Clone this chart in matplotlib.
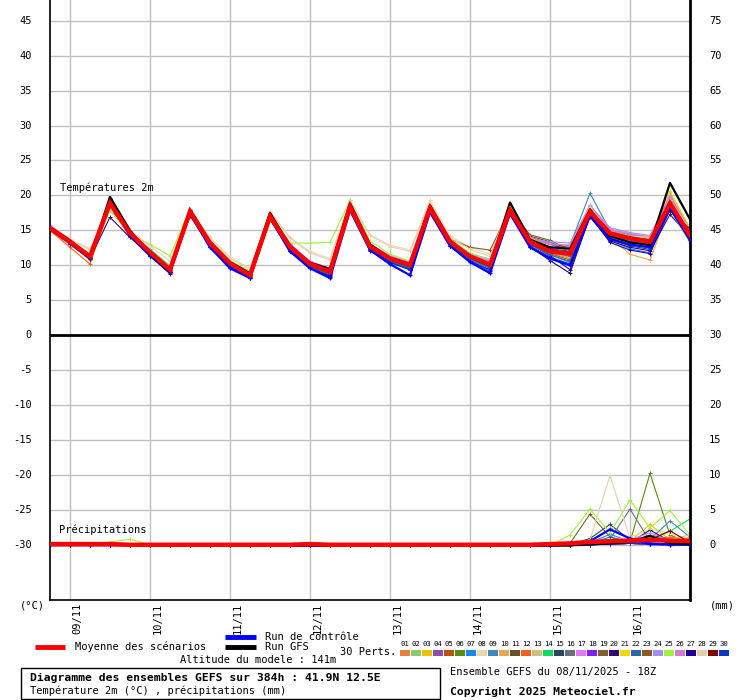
import numpy as np
import matplotlib
matplotlib.use("Agg")
import matplotlib.pyplot as plt
from matplotlib.transforms import blended_transform_factory
from matplotlib.patches import Rectangle

plt.rcParams['font.family'] = ['DejaVu Sans Mono']

# ---------------- data ----------------
hours = [6 * i for i in range(33)]          # hours after 08/11 18Z
day_labels = ["09/11", "10/11", "11/11", "12/11", "13/11", "14/11", "15/11", "16/11"]
day_hours = [6, 30, 54, 78, 102, 126, 150, 174]

left_ticks = [45, 40, 35, 30, 25, 20, 15, 10, 5, 0, -5, -10, -15, -20, -25, -30]
right_labels = [75, 70, 65, 60, 55, 50, 45, 40, 35, 30, 25, 20, 15, 10, 5, 0]

mean_t = [15.3, 13.4, 11.3, 18.9, 14.6, 11.9, 9.4, 17.7, 13.2, 10.3, 8.6, 17.0, 12.7, 10.2, 9.1, 18.4,
          12.7, 11.0, 10.1, 18.2, 13.4, 11.3, 10.1, 17.9, 13.4, 12.0, 11.7, 17.7, 14.6, 13.9, 13.4, 18.9, 14.3]
control_t = [15.4, 13.2, 11.0, 19.3, 14.2, 11.4, 9.0, 17.4, 12.6, 9.6, 8.2, 16.8, 12.0, 9.6, 8.2, 17.9,
             12.2, 10.2, 8.6, 17.6, 12.8, 10.5, 8.9, 17.4, 12.6, 11.0, 10.0, 17.2, 13.8, 13.0, 12.6, 18.2, 13.6]
gfs_t = [15.5, 13.6, 11.0, 19.8, 15.0, 11.6, 9.2, 18.0, 13.4, 10.5, 8.9, 17.5, 12.8, 10.4, 9.5, 18.9,
         13.0, 11.1, 10.2, 18.6, 13.6, 11.2, 10.0, 19.0, 13.7, 12.6, 12.4, 18.0, 14.2, 13.3, 12.9, 21.8, 16.6]

pert_colors = ["#e8803a", "#88c870", "#f0c000", "#8850a8", "#b85010", "#5a8a10", "#1888f0", "#e8d8b0",
               "#3a8ab8", "#e8a850", "#685020", "#f06020", "#d0c080", "#10d860", "#284860", "#687078",
               "#e078f8", "#8020f0", "#806030", "#300870", "#f0d800", "#2868a8", "#905820", "#a090f0",
               "#a0f040", "#d878d8", "#200098", "#e0d0b0", "#800000", "#0838c0"]

p01 = [15.0, 13.0, 10.8, 18.5, 14.2, 11.6, 9.0, 17.5, 13.0, 10.0, 8.4, 16.6, 12.4, 9.8, 8.9, 18.0, 12.4, 10.8, 9.8, 17.8, 13.2, 11.0, 9.8, 17.6, 13.0, 11.8, 11.0, 17.4, 14.0, 13.4, 13.2, 18.4, 14.6]
p02 = [15.5, 13.6, 11.6, 18.8, 14.8, 12.2, 9.7, 17.9, 13.4, 10.6, 8.9, 17.2, 12.9, 10.5, 9.4, 18.6, 13.0, 11.3, 10.4, 18.4, 13.6, 11.6, 10.5, 18.2, 13.8, 12.6, 12.8, 17.6, 15.0, 14.4, 14.0, 19.2, 14.0]
p03 = [15.2, 13.5, 11.4, 19.2, 14.7, 11.8, 9.3, 17.8, 13.1, 10.2, 8.5, 17.1, 12.6, 10.1, 8.9, 18.3, 12.6, 10.9, 9.9, 18.1, 13.3, 11.2, 10.0, 18.0, 13.6, 12.3, 11.5, 18.2, 14.8, 14.2, 13.8, 20.5, 15.0]
p04 = [15.6, 13.4, 11.2, 18.6, 14.4, 12.0, 9.5, 17.6, 13.3, 10.4, 8.7, 16.9, 12.8, 10.3, 9.2, 18.5, 12.9, 11.2, 10.3, 18.3, 13.5, 11.4, 10.3, 18.1, 13.9, 13.0, 12.2, 18.0, 14.4, 14.0, 13.6, 19.0, 14.2]
p05 = [15.1, 13.3, 11.1, 18.9, 14.5, 11.7, 9.2, 17.6, 13.2, 10.3, 8.6, 17.0, 12.6, 10.2, 9.0, 18.4, 12.7, 11.0, 10.0, 18.2, 13.4, 11.3, 10.2, 17.8, 13.3, 11.7, 10.8, 17.5, 14.2, 13.6, 13.0, 19.4, 14.8]
p06 = [15.3, 13.5, 11.3, 18.4, 14.3, 11.9, 9.5, 17.7, 13.3, 10.4, 8.8, 17.2, 12.8, 10.4, 9.3, 18.4, 12.8, 11.1, 10.2, 18.2, 13.5, 11.5, 10.4, 17.9, 13.5, 12.2, 11.8, 17.6, 14.6, 13.8, 13.2, 18.8, 14.0]
p07 = [15.2, 13.1, 11.0, 19.0, 14.3, 11.5, 9.1, 17.5, 12.9, 9.9, 8.3, 16.7, 12.2, 9.8, 8.6, 18.1, 12.3, 10.6, 9.5, 17.9, 13.0, 10.8, 9.6, 17.7, 13.1, 11.6, 10.4, 17.3, 13.6, 12.4, 11.8, 18.6, 14.4]
p08 = [15.5, 13.7, 12.4, 18.0, 14.9, 12.4, 10.0, 18.0, 14.0, 11.2, 9.6, 17.8, 14.0, 12.0, 11.0, 19.4, 14.4, 12.9, 12.2, 19.3, 14.2, 12.6, 11.6, 18.8, 14.0, 12.4, 12.0, 17.9, 15.2, 14.6, 14.2, 19.6, 15.4]
p09 = [15.3, 13.4, 11.2, 19.1, 14.6, 11.8, 9.3, 17.7, 13.1, 10.2, 8.6, 17.0, 12.6, 10.0, 9.0, 18.3, 12.6, 10.9, 9.9, 18.1, 13.4, 11.4, 10.6, 17.9, 13.5, 12.5, 12.9, 20.3, 15.0, 14.0, 13.4, 19.6, 14.6]
p10 = [15.0, 13.2, 11.1, 18.7, 14.4, 11.7, 9.2, 17.6, 13.0, 10.1, 8.5, 16.9, 12.5, 10.0, 8.9, 18.2, 12.5, 10.9, 9.9, 18.0, 13.2, 11.1, 9.9, 17.8, 13.2, 11.8, 11.2, 17.9, 14.0, 11.6, 10.8, 18.4, 13.8]
p11 = [15.4, 13.5, 11.4, 19.4, 14.7, 11.8, 9.0, 17.8, 13.1, 10.1, 8.4, 17.0, 12.5, 9.9, 8.7, 18.2, 12.5, 10.8, 9.7, 18.0, 13.3, 11.2, 10.1, 18.4, 14.2, 13.4, 11.8, 17.4, 14.3, 13.8, 13.2, 18.6, 14.5]
p12 = [15.0, 12.6, 10.2, 18.5, 14.5, 11.7, 9.3, 17.3, 13.0, 10.3, 8.7, 16.7, 12.6, 10.2, 9.1, 18.0, 12.6, 11.0, 10.0, 18.0, 13.4, 11.4, 10.3, 18.1, 13.6, 12.1, 11.4, 17.5, 14.6, 14.0, 13.6, 19.2, 15.2]
p13 = [15.4, 13.6, 11.5, 19.0, 14.8, 12.0, 9.5, 17.9, 13.4, 10.5, 8.9, 17.3, 13.0, 10.6, 9.5, 18.7, 13.0, 11.3, 10.4, 18.5, 13.7, 11.6, 10.5, 18.2, 13.7, 12.3, 12.4, 18.3, 14.9, 14.3, 13.9, 19.8, 14.8]
p14 = [15.2, 13.3, 11.2, 18.6, 14.4, 12.3, 9.9, 17.6, 13.2, 10.4, 8.7, 17.1, 12.9, 10.4, 9.3, 18.4, 12.8, 11.1, 10.2, 18.2, 13.4, 11.3, 10.1, 17.7, 13.4, 12.2, 12.6, 18.1, 14.8, 14.4, 14.0, 19.0, 14.4]
p15 = [15.6, 13.6, 11.4, 19.6, 14.9, 11.9, 9.3, 17.9, 13.3, 10.3, 8.6, 17.0, 12.7, 10.2, 9.1, 18.5, 12.8, 11.1, 10.1, 18.3, 13.5, 11.4, 10.2, 18.0, 13.4, 12.0, 11.6, 17.8, 14.5, 13.8, 13.2, 19.4, 14.3]
p16 = [15.3, 13.5, 11.3, 19.5, 14.6, 11.7, 9.2, 17.6, 13.2, 10.3, 8.6, 17.1, 12.7, 10.1, 9.0, 18.4, 12.7, 11.0, 10.1, 18.2, 13.4, 11.3, 10.1, 17.9, 13.4, 11.9, 11.3, 17.6, 14.4, 13.5, 12.9, 19.0, 14.1]
p17 = [15.8, 13.7, 11.5, 18.8, 14.8, 12.1, 9.6, 17.8, 13.4, 10.5, 8.8, 17.3, 13.1, 10.6, 9.6, 18.6, 13.1, 11.4, 10.5, 18.4, 13.6, 11.7, 10.9, 18.3, 14.0, 13.0, 12.7, 18.4, 15.2, 14.5, 14.1, 19.9, 14.9]
p18 = [15.4, 13.4, 11.3, 18.3, 14.2, 11.9, 9.4, 17.2, 13.0, 10.2, 8.7, 16.8, 12.5, 10.1, 9.1, 18.1, 12.6, 10.9, 10.0, 18.0, 13.3, 11.3, 10.2, 17.8, 13.5, 12.4, 12.0, 17.5, 14.4, 13.9, 13.4, 18.8, 14.3]
p19 = [15.3, 13.4, 11.3, 19.0, 14.6, 11.9, 9.4, 17.7, 13.2, 10.3, 8.6, 17.0, 12.7, 10.2, 9.1, 18.4, 12.7, 11.0, 10.1, 18.2, 13.4, 11.3, 10.1, 17.9, 14.4, 13.6, 12.2, 17.9, 14.6, 13.8, 13.3, 18.9, 14.2]
p20 = [15.2, 13.2, 11.0, 16.9, 14.0, 11.6, 9.1, 17.1, 12.8, 10.0, 8.4, 16.7, 12.3, 9.9, 8.8, 18.0, 12.3, 10.7, 9.7, 17.8, 13.0, 11.0, 9.8, 17.6, 13.1, 11.4, 9.4, 16.9, 13.5, 12.6, 12.1, 17.3, 14.0]
p21 = [15.1, 13.3, 11.2, 18.8, 14.5, 11.8, 9.3, 17.6, 13.1, 10.2, 8.5, 16.9, 12.6, 10.1, 9.0, 18.3, 12.6, 10.9, 9.9, 18.1, 13.3, 11.2, 10.0, 17.8, 13.3, 11.9, 11.6, 17.8, 14.7, 14.1, 13.8, 20.6, 15.4]
p22 = [15.2, 13.2, 11.1, 19.2, 14.4, 11.6, 9.1, 17.4, 12.9, 10.0, 8.4, 16.8, 12.3, 9.8, 8.7, 18.1, 12.4, 10.7, 9.6, 17.9, 13.1, 10.9, 9.7, 17.6, 13.0, 11.5, 10.6, 17.4, 13.9, 13.0, 12.5, 18.5, 14.0]
p23 = [15.4, 13.5, 11.4, 19.1, 14.6, 11.8, 9.3, 17.6, 13.2, 10.2, 8.6, 16.9, 12.6, 10.1, 9.0, 18.3, 12.7, 11.0, 10.1, 18.2, 13.8, 12.6, 12.2, 18.0, 14.0, 13.2, 12.5, 17.7, 14.5, 13.9, 13.4, 19.2, 14.6]
p24 = [15.6, 13.6, 11.5, 19.0, 14.7, 12.0, 9.5, 17.8, 13.3, 10.4, 8.8, 17.2, 12.9, 10.4, 9.3, 18.5, 12.9, 11.2, 10.3, 18.3, 13.5, 11.5, 10.7, 18.2, 13.8, 13.4, 13.2, 18.6, 15.4, 14.7, 14.3, 20.0, 15.1]
p25 = [15.4, 13.5, 11.6, 17.8, 14.5, 13.0, 11.4, 18.1, 13.6, 10.7, 9.2, 17.5, 13.2, 13.2, 13.3, 19.3, 13.5, 11.6, 10.6, 18.6, 13.8, 11.8, 10.8, 18.4, 14.0, 12.6, 12.3, 17.6, 14.9, 14.2, 13.6, 18.0, 13.2]
p26 = [15.5, 13.5, 11.4, 18.9, 14.7, 12.0, 9.5, 17.7, 13.3, 10.4, 8.8, 17.2, 12.8, 10.3, 9.2, 18.5, 12.8, 11.1, 10.2, 18.3, 13.5, 11.5, 10.6, 18.1, 14.0, 13.1, 12.9, 18.5, 15.1, 14.5, 14.0, 19.6, 14.7]
p27 = [15.2, 13.1, 10.9, 19.0, 14.2, 11.4, 8.9, 17.3, 12.7, 9.7, 8.2, 16.6, 12.1, 9.6, 8.5, 17.9, 12.1, 10.4, 9.4, 17.7, 12.8, 10.6, 9.4, 17.4, 12.7, 10.7, 8.9, 17.1, 13.3, 12.2, 11.7, 18.0, 13.9]
p28 = [15.7, 13.8, 12.2, 18.2, 15.0, 12.8, 10.6, 18.1, 13.8, 11.0, 9.5, 17.7, 13.9, 11.8, 10.8, 19.2, 14.3, 12.7, 12.0, 19.0, 14.0, 12.3, 11.3, 18.7, 13.8, 12.6, 12.5, 18.4, 14.8, 14.2, 14.0, 19.4, 15.0]
p29 = [15.3, 13.4, 11.2, 19.3, 14.5, 11.4, 8.8, 17.5, 13.0, 10.1, 8.5, 16.9, 12.5, 10.0, 8.9, 18.3, 12.6, 10.9, 9.9, 18.1, 13.3, 11.2, 10.0, 17.9, 13.5, 12.3, 11.6, 17.9, 14.7, 14.0, 13.7, 17.8, 15.2]
p30 = [15.1, 13.1, 11.0, 19.3, 14.3, 11.5, 9.0, 17.4, 12.7, 9.8, 8.2, 16.7, 12.1, 9.7, 8.3, 18.0, 12.2, 10.5, 9.4, 17.8, 12.9, 10.7, 9.2, 17.5, 12.8, 11.2, 10.2, 17.6, 13.7, 12.8, 12.3, 18.7, 14.1]
pert_t = [p01, p02, p03, p04, p05, p06, p07, p08, p09, p10, p11, p12, p13, p14, p15,
          p16, p17, p18, p19, p20, p21, p22, p23, p24, p25, p26, p27, p28, p29, p30]

# precipitation (mm per 6h)
mean_p = [0.2, 0.2, 0.2, 0.2, 0.1, 0.1, 0.1, 0.1, 0.1, 0.1, 0.1, 0.1, 0.1, 0.2, 0.1, 0.1, 0.1,
          0.1, 0.1, 0.1, 0.1, 0.1, 0.1, 0.1, 0.1, 0.2, 0.3, 0.5, 0.6, 0.7, 0.8, 0.7, 0.6]
control_p = [0.1, 0.1, 0.1, 0.1, 0.1, 0, 0, 0, 0, 0, 0, 0, 0, 0, 0, 0, 0,
             0, 0, 0, 0, 0, 0, 0, 0, 0, 0.1, 0.6, 2.3, 1.0, 0.2, 0.1, 0.1]
gfs_p = [0.1, 0.1, 0.1, 0.1, 0.1, 0, 0, 0, 0, 0, 0, 0, 0, 0, 0, 0, 0,
         0, 0, 0, 0, 0, 0, 0, 0, 0, 0, 0.2, 0.3, 0.5, 1.4, 0.3, 0.2]
pp06 = [0, 0, 0, 0, 0, 0, 0, 0, 0, 0, 0, 0, 0, 0, 0, 0, 0, 0, 0, 0, 0, 0, 0, 0, 0, 0, 0, 0.1, 0.2, 0.5, 10.3, 1.5, 0.3]
pp08 = [0, 0, 0, 0, 0, 0, 0, 0, 0, 0, 0, 0, 0, 0, 0, 0, 0, 0, 0, 0, 0, 0, 0, 0, 0, 0, 0.1, 0.3, 0.8, 1.2, 2.3, 1.8, 0.4]
pp25 = [0, 0, 0.2, 0.5, 0.9, 0.1, 0, 0, 0, 0, 0, 0, 0, 0, 0, 0, 0, 0, 0, 0, 0, 0, 0, 0, 0, 0, 1.5, 5.2, 1.8, 6.5, 2.5, 5.0, 1.5]
pp28 = [0, 0, 0, 0, 0, 0, 0, 0, 0, 0, 0, 0, 0, 0, 0, 0, 0, 0, 0, 0, 0, 0, 0, 0, 0, 0, 0.2, 0.8, 10.0, 1.0, 0.6, 0.3, 0.2]
pp19 = [0, 0, 0, 0, 0, 0, 0, 0, 0, 0, 0, 0, 0, 0, 0, 0, 0, 0, 0, 0, 0, 0, 0, 0, 0, 0, 0.3, 4.5, 1.2, 0.4, 0.3, 0.2, 0.1]
pp15 = [0, 0, 0, 0, 0, 0, 0, 0, 0, 0, 0, 0, 0, 0, 0, 0, 0, 0, 0, 0, 0, 0, 0, 0, 0, 0, 0.1, 1.0, 3.0, 0.8, 0.4, 0.2, 0.1]
pp16 = [0, 0, 0, 0, 0, 0, 0, 0, 0, 0, 0, 0, 0, 0, 0, 0, 0, 0, 0, 0, 0, 0, 0, 0, 0, 0, 0, 0.2, 0.9, 5.2, 0.6, 0.3, 0.2]
pp14 = [0, 0, 0, 0, 0, 0, 0, 0, 0, 0, 0, 0, 0, 0, 0, 0, 0, 0, 0, 0, 0, 0, 0, 0, 0, 0, 0, 0.1, 0.3, 0.6, 0.8, 2.0, 3.8]
pp09 = [0, 0, 0, 0, 0, 0, 0, 0, 0, 0, 0, 0, 0, 0, 0, 0, 0, 0, 0, 0, 0, 0, 0, 0, 0, 0, 0, 0.1, 0.2, 0.5, 0.9, 3.5, 1.2]
pp03 = [0, 0, 0, 0, 0, 0, 0, 0, 0, 0, 0, 0, 0, 0, 0, 0, 0, 0, 0, 0, 0, 0, 0, 0, 0, 0, 0, 0.2, 0.4, 0.6, 3.0, 0.8, 0.5]
pp20 = [0, 0, 0, 0, 0, 0, 0, 0, 0, 0, 0, 0, 0, 0, 0, 0, 0, 0, 0, 0, 0, 0, 0, 0, 0, 0, 0, 0.1, 0.3, 0.4, 2.2, 0.6, 0.3]
pp29 = [0, 0, 0, 0, 0, 0, 0, 0, 0, 0, 0, 0, 0, 0, 0, 0, 0, 0, 0, 0, 0, 0, 0, 0, 0, 0, 0, 0.1, 0.2, 0.4, 0.8, 2.1, 0.4]
pp12 = [0, 0, 0, 0, 0, 0, 0, 0, 0, 0, 0, 0, 0, 0, 0, 0, 0, 0, 0, 0, 0, 0, 0, 0, 0, 0, 0, 0.2, 0.3, 0.5, 1.0, 1.2, 1.0]
pp13 = [0, 0, 0, 0, 0, 0, 0, 0, 0, 0, 0, 0, 0, 0, 0, 0, 0, 0, 0, 0, 0, 0, 0, 0, 0, 0, 0, 0.1, 0.2, 0.4, 0.6, 0.9, 1.5]
pp24 = [0, 0, 0, 0, 0, 0, 0, 0, 0, 0, 0, 0, 0, 0, 0, 0, 0, 0, 0, 0, 0, 0, 0, 0, 0, 0, 0, 0.2, 0.4, 0.8, 1.8, 0.7, 0.4]
pp07 = [0.1, 0, 0, 0, 0, 0, 0, 0, 0, 0, 0, 0, 0, 0, 0, 0, 0, 0, 0, 0, 0, 0, 0, 0, 0, 0, 0.1, 0.4, 1.6, 0.6, 0.3, 0.2, 0.1]
pp22 = [0, 0, 0, 0, 0, 0, 0, 0, 0, 0, 0, 0, 0, 0, 0, 0, 0, 0, 0, 0, 0, 0, 0, 0, 0, 0, 0, 0.3, 1.2, 0.5, 0.3, 0.4, 0.2]
pp01 = [0, 0, 0, 0, 0, 0, 0, 0, 0, 0, 0, 0, 0, 0, 0, 0, 0, 0, 0, 0, 0, 0, 0, 0, 0, 0, 0, 0.1, 0.3, 0.6, 1.2, 0.9, 0.6]
pp10 = [0, 0, 0, 0, 0, 0, 0, 0, 0, 0, 0, 0, 0, 0, 0, 0, 0, 0, 0, 0, 0, 0, 0, 0, 0, 0, 0, 0.1, 0.2, 0.9, 0.4, 0.5, 1.1]
pp_zero = [0, 0, 0, 0, 0, 0, 0, 0, 0, 0, 0, 0, 0, 0, 0, 0, 0, 0, 0, 0, 0, 0, 0, 0, 0, 0, 0, 0.1, 0.2, 0.3, 0.2, 0.3, 0.2]
pert_p = [pp01, pp_zero, pp03, pp_zero, pp_zero, pp06, pp07, pp08, pp09, pp10,
          pp_zero, pp12, pp13, pp14, pp15, pp16, pp_zero, pp_zero, pp19, pp20,
          pp_zero, pp22, pp_zero, pp24, pp25, pp_zero, pp_zero, pp28, pp29, pp_zero]

OFFSET = 30  # precipitation plotted as (mm - 30) on the same axis; right axis labels = left + 30

# ---------------- figure ----------------
W, H = 740, 700
fig = plt.figure(figsize=(W / 100, H / 100), dpi=100)
ax = fig.add_axes([50 / W, 100 / H, 640 / W, 600 / H])
ax.set_xlim(0, 192)
ax.set_ylim(-37.79, 47.93)

grid_c = "#c0c0c0"
for v in left_ticks:
    if v != 0:
        ax.axhline(v, color=grid_c, lw=1, zorder=0)
for h in day_hours:
    ax.axvline(h, color=grid_c, lw=1, zorder=0)
ax.axhline(0, color="black", lw=2, zorder=5)

hrs = np.array(hours, dtype=float)
for col, t, p in zip(pert_colors, pert_t, pert_p):
    ax.plot(hrs, t, color=col, lw=0.8, marker="+", ms=3, mew=0.7, zorder=2)
    ax.plot(hrs, np.array(p) - OFFSET, color=col, lw=0.8, marker="+", ms=3, mew=0.7, zorder=2)

ax.plot(hrs, control_t, color="#0000ff", lw=1.6, marker="+", ms=3, zorder=3)
ax.plot(hrs, np.array(control_p) - OFFSET, color="#0000ff", lw=1.6, marker="+", ms=3, zorder=3)
ax.plot(hrs, gfs_t, color="black", lw=1.6, zorder=3)
ax.plot(hrs, np.array(gfs_p) - OFFSET, color="black", lw=1.6, zorder=3)
ax.plot(hrs, mean_t, color="#ff0000", lw=3.2, zorder=4, solid_joinstyle="miter")
ax.plot(hrs, np.array(mean_p) - OFFSET, color="#ff0000", lw=3.2, zorder=4)

ax.set_xticks([])
ax.set_yticks([])
ax.spines["top"].set_visible(False)
ax.spines["left"].set_linewidth(1.2)
ax.spines["bottom"].set_linewidth(1.2)
ax.spines["right"].set_linewidth(2)
for s in ax.spines.values():
    s.set_color("black")

fs = 7.5
tr = blended_transform_factory(ax.transAxes, ax.transData)
for v, r in zip(left_ticks, right_labels):
    ax.text(-18 / 640, v, str(v), transform=tr, ha="right", va="center", fontsize=fs)
    ax.text(1 + 19 / 640, v, str(r), transform=tr, ha="left", va="center", fontsize=fs)

trx = blended_transform_factory(ax.transData, ax.transAxes)
for h, lab in zip(day_hours, day_labels):
    ax.text(h + 2.3, -3 / 600, lab, transform=trx, rotation=90, ha="center", va="top", fontsize=fs)

# ---------------- overlay in pixel coordinates ----------------
ov = fig.add_axes([0, 0, 1, 1], facecolor="none")
ov.set_xlim(0, W)
ov.set_ylim(H, 0)
ov.axis("off")

ov.text(60, 188, "Températures 2m", fontsize=fs, va="center", ha="left")
ov.text(59, 530, "Précipitations", fontsize=fs, va="center", ha="left")
ov.text(32, 606, "(°C)", fontsize=fs, va="center", ha="center")
ov.text(722, 606, "(mm)", fontsize=fs, va="center", ha="center")

ov.plot([35, 65], [647, 647], color="#ff0000", lw=3.5, solid_capstyle="butt")
ov.text(75, 647, "Moyenne des scénarios", fontsize=fs, va="center")
ov.plot([225, 256], [636.5, 636.5], color="#0000ff", lw=3.5, solid_capstyle="butt")
ov.text(265, 636.5, "Run de contrôle", fontsize=fs, va="center")
ov.plot([225, 256], [647, 647], color="black", lw=3.5, solid_capstyle="butt")
ov.text(265, 647, "Run GFS", fontsize=fs, va="center")
ov.text(180, 660, "Altitude du modele : 141m", fontsize=fs, va="center")
ov.text(340, 652, "30 Perts.", fontsize=fs, va="center")

for i, col in enumerate(pert_colors):
    x0 = 400 + 11 * i
    ov.add_patch(Rectangle((x0, 650), 10, 6, color=col, lw=0))
    ov.text(x0 + 5, 644.5, f"{i + 1:02d}", fontsize=5.2, ha="center", va="center")

ov.add_patch(Rectangle((20.5, 667.5), 419.5, 31.5, fill=False, edgecolor="black", lw=1))
ov.text(30, 678, "Diagramme des ensembles GEFS sur 384h : 41.9N 12.5E",
        fontsize=8.2, fontweight="bold", va="center")
ov.text(30, 691, "Température 2m (°C) , précipitations (mm)", fontsize=fs, va="center")
ov.text(450, 672, "Ensemble GEFS du 08/11/2025 - 18Z", fontsize=fs, va="center")
ov.text(450, 692, "Copyright 2025 Meteociel.fr", fontsize=8.2, fontweight="bold", va="center")

fig.savefig("out.png", dpi=100)
